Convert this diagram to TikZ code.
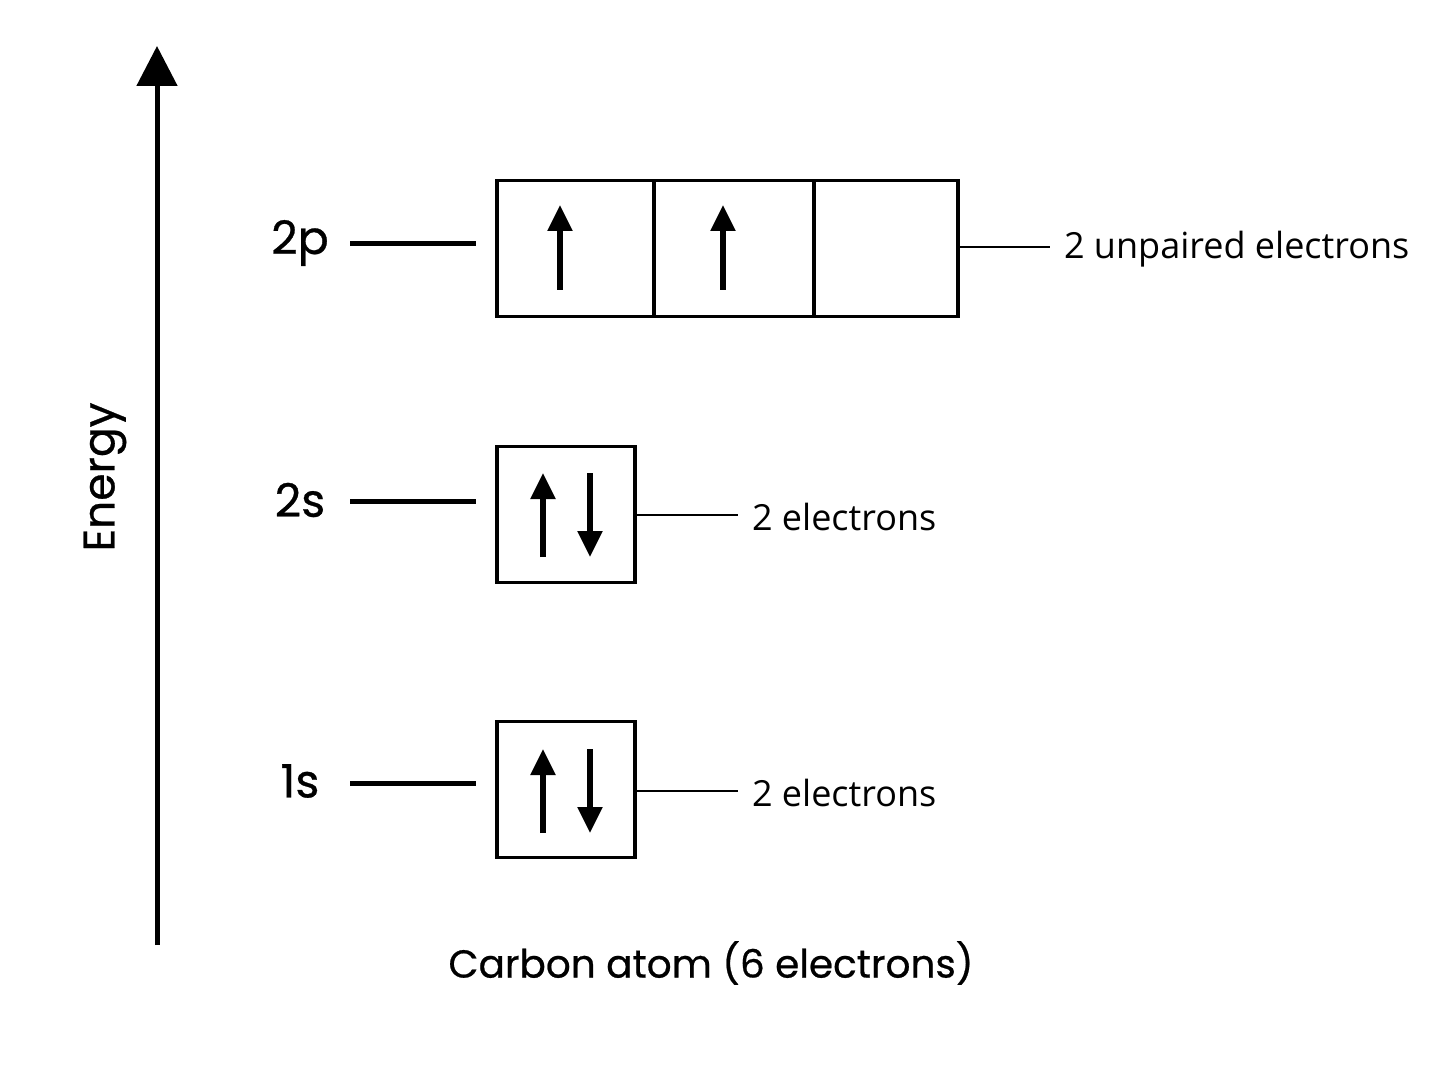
\documentclass[tikz,border=0pt]{standalone}
\usepackage{fontspec}
\setmainfont{Poppins}[FakeBold=0.6,AutoFakeBold=0.6]
\newfontfamily\lab{Open Sans}
\usetikzlibrary{arrows.meta}
\begin{document}
\begin{tikzpicture}[x=0.5pt,y=-0.5pt,
  box/.style={draw,line width=1.6pt,minimum height=68pt,inner sep=0},
  lvl/.style={line width=2.5pt},
  spin/.style={line width=2.6pt,-{Triangle[length=13pt,width=12pt]}},
  conn/.style={line width=0.7pt},
  big/.style={font=\bfseries\fontsize{23}{27}\selectfont},
  small/.style={font=\lab\fontsize{18}{21}\selectfont,anchor=west}]
\useasboundingbox (0,0) rectangle (1448,1086);
\fill[white] (0,0) rectangle (1448,1086);
% energy axis
\coordinate (ea) at (157,945); \coordinate (eb) at (157,46);
\draw[line width=2.5pt,-{Triangle[length=20pt,width=20pt]}] (ea) -- (eb);
\node[font=\bfseries\fontsize{22}{26}\selectfont,rotate=90] (energy) at (105,477) {Energy};
% levels
\node[big] (l2p) at (300,243) {2p};
\node[big] (l2s) at (300,500) {2s};
\node[big] (l1s) at (300,781) {1s};
\coordinate (a1) at (350,244); \coordinate (a2) at (476,244);
\coordinate (b1) at (350,501); \coordinate (b2) at (476,501);
\coordinate (c1) at (350,783); \coordinate (c2) at (476,783);
\draw[lvl] (a1)--(a2); \draw[lvl] (b1)--(b2); \draw[lvl] (c1)--(c2);
% 2p box
\node[box,minimum width=78.5pt] (p1) at (575.5,248.5) {};
\node[box,minimum width=80pt] (p2) at (734,248.5) {};
\node[box,minimum width=72pt] (p3) at (886,248.5) {};
\draw[spin] (560,290) -- (560,205);
\draw[spin] (723,290) -- (723,205);
% 2s box
\node[box,minimum width=69pt] (s2) at (566,514.5) {};
\draw[spin] (543,557) -- (543,473);
\draw[spin] (590,473) -- (590,557);
% 1s box
\node[box,minimum width=69pt] (s1) at (566,789.5) {};
\draw[spin] (543,833) -- (543,749);
\draw[spin] (590,749) -- (590,833);
% labels
\node[small] (t2p) at (1057,249) {2 unpaired electrons};
\node[small] (t2s) at (745,517) {2 electrons};
\node[small] (t1s) at (745,793) {2 electrons};
\draw[conn] (p3.east |- 0,247) -- (1050,247);
\draw[conn] (s2.east |- 0,515) -- (738,515);
\draw[conn] (s1.east |- 0,791) -- (738,791);
\node[font=\bfseries\fontsize{19.5}{24}\selectfont] (title) at (711,963) {Carbon atom (6 electrons)};
\end{tikzpicture}
\end{document}
